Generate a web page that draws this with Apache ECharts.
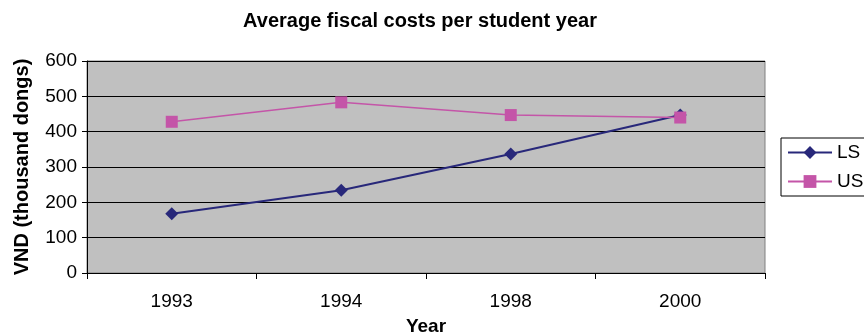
<!DOCTYPE html>
<html><head><meta charset="utf-8">
<script src="https://cdn.jsdelivr.net/npm/echarts@6/dist/echarts.min.js"></script>
<style>html,body{margin:0;padding:0;background:#fff}#c{width:864px;height:336px}</style>
</head><body><div id="c"></div>
<script>
const categories = ['1993', '1994', '1998', '2000'];
const lsValues = [168, 234, 337, 447];
const usValues = [428, 483, 447, 440];
const yTicks = [0, 100, 200, 300, 400, 500, 600];

const chart = echarts.init(document.getElementById('c'));
const font = 'Liberation Sans, Arial, sans-serif';
chart.setOption({
  animation: false,
  backgroundColor: '#ffffff',
  title: {
    text: 'Average fiscal costs per student year',
    left: 420, top: 11, textAlign: 'center', padding: 0,
    textStyle: { fontFamily: font, fontSize: 20, fontWeight: 'bold', color: '#000' }
  },
  grid: {
    left: 87, right: 99, top: 61, bottom: 63,
    containLabel: false, outerBoundsMode: 'none',
    show: true, backgroundColor: '#c0c0c0', borderColor: '#808080', borderWidth: 1
  },
  legend: {
    left: 781, top: 138, orient: 'vertical', itemGap: 10,
    itemWidth: 44, itemHeight: 16,
    padding: [5, 40, 5, 6],
    borderColor: '#000', borderWidth: 1, borderRadius: 0,
    textStyle: { fontFamily: font, fontSize: 19, color: '#000' },
    data: ['LS', 'US']
  },
  xAxis: {
    type: 'category', data: categories, boundaryGap: true,
    name: 'Year', nameLocation: 'middle', nameGap: 44,
    nameTextStyle: { fontFamily: font, fontSize: 19, fontWeight: 'bold', color: '#000' },
    axisLine: { lineStyle: { color: '#000', width: 1 } },
    axisTick: { show: true, length: 6, inside: false, alignWithLabel: false, lineStyle: { color: '#000' } },
    axisLabel: { fontFamily: font, fontSize: 19, color: '#000', margin: 19 },
    splitLine: { show: false }
  },
  yAxis: {
    type: 'value', min: 0, max: 600, interval: 100,
    name: 'VND (thousand dongs)', nameLocation: 'middle', nameGap: 55, nameRotate: 90,
    nameTextStyle: { fontFamily: font, fontSize: 20, fontWeight: 'bold', color: '#000' },
    axisLine: { show: true, lineStyle: { color: '#000', width: 1 } },
    axisTick: { show: true, length: 5, lineStyle: { color: '#000' } },
    axisLabel: {
      fontFamily: font, fontSize: 19, color: '#000', margin: 10,
      formatter: v => yTicks.includes(v) ? String(v) : ''
    },
    splitLine: { show: true, lineStyle: { color: '#000', width: 1 } }
  },
  series: [
    {
      name: 'LS', type: 'line', data: lsValues,
      symbol: 'diamond', symbolSize: 13,
      lineStyle: { color: '#28287a', width: 2 },
      itemStyle: { color: '#28287a' }
    },
    {
      name: 'US', type: 'line', data: usValues,
      symbol: 'rect', symbolSize: 12,
      lineStyle: { color: '#c455a8', width: 1.5 },
      itemStyle: { color: '#c455a8' }
    }
  ]
});
</script></body></html>
